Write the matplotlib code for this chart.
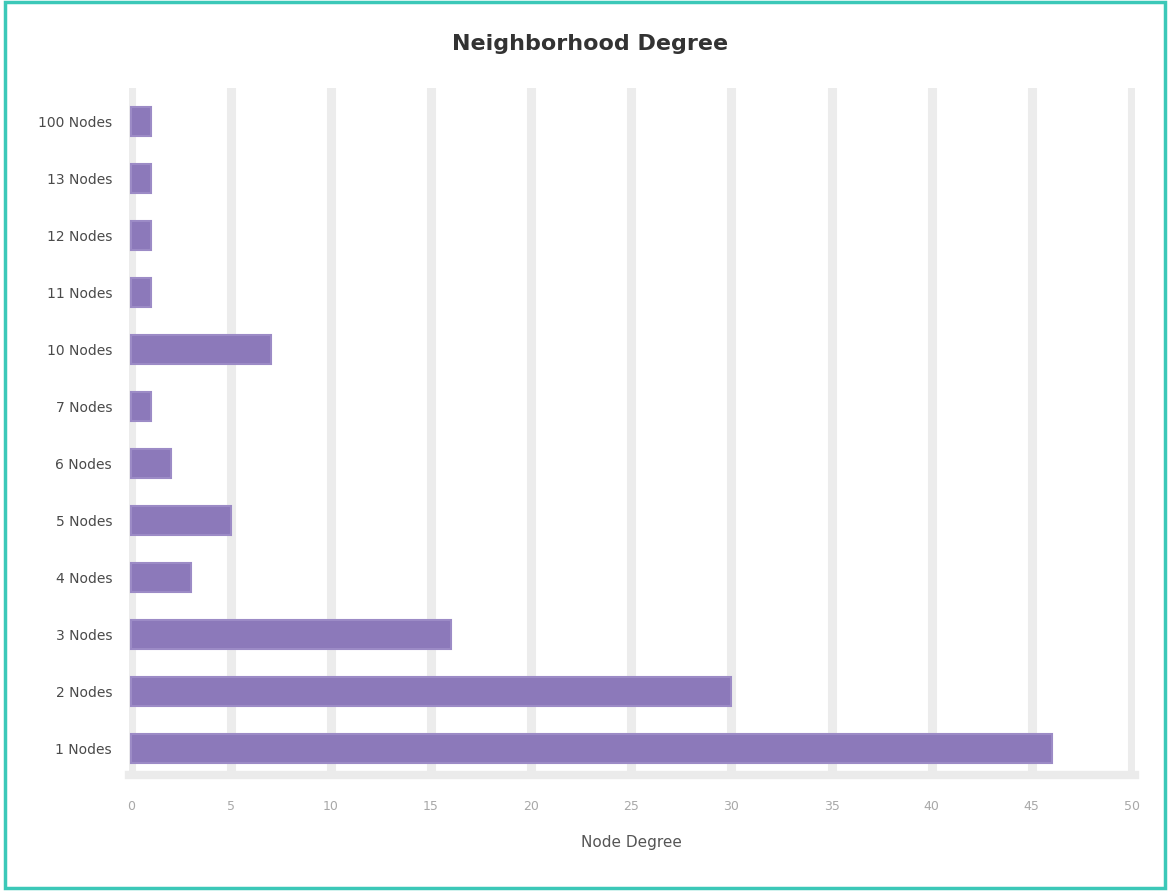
import matplotlib
matplotlib.use('Agg')
import matplotlib.pyplot as plt
from matplotlib.patches import Rectangle

# categories top to bottom
labels = ['100 Nodes', '13 Nodes', '12 Nodes', '11 Nodes', '10 Nodes', '7 Nodes',
          '6 Nodes', '5 Nodes', '4 Nodes', '3 Nodes', '2 Nodes', '1 Nodes']
counts = [1, 1, 1, 1, 7, 1, 2, 5, 3, 16, 30, 46]
xticks = [0, 5, 10, 15, 20, 25, 30, 35, 40, 45, 50]

fig = plt.figure(figsize=(11.7, 8.92), dpi=100)
ax = fig.add_axes([0.110, 0.131, 0.860, 0.770])

ypos = list(range(len(labels)))[::-1]
ax.set_xlim(-0.1, 50.15)
ax.set_ylim(-0.47, 11.58)

for x in xticks:
    ax.axvline(x, color='#ececec', lw=6.5, zorder=0)
ax.axhline(-0.47, color='#ebebeb', lw=6, zorder=0, clip_on=False)

ax.barh(ypos, counts, height=0.5, color='#8c79ba', edgecolor='#9c8bc6', lw=1.5, zorder=2)

ax.set_xticks(xticks)
ax.set_xticklabels([str(x) for x in xticks], fontsize=9, color='#a8a8a8')
ax.set_yticks(ypos)
ax.set_yticklabels(labels, fontsize=10, color='#4a4a4a')
ax.tick_params(axis='both', length=0)
ax.tick_params(axis='x', pad=18)
ax.tick_params(axis='y', pad=12)
for s in ax.spines.values():
    s.set_visible(False)

ax.set_xlabel('Node Degree', fontsize=11, color='#555555', labelpad=16)
fig.text(0.504, 0.951, 'Neighborhood Degree', ha='center', va='center',
         fontsize=16, color='#333333', fontweight='bold')

fig.patches.append(Rectangle((0.004, 0.004), 0.992, 0.994, transform=fig.transFigure,
                             fill=False, edgecolor='#3cc8b8', lw=2.5))

fig.savefig('out.png', dpi=100)
